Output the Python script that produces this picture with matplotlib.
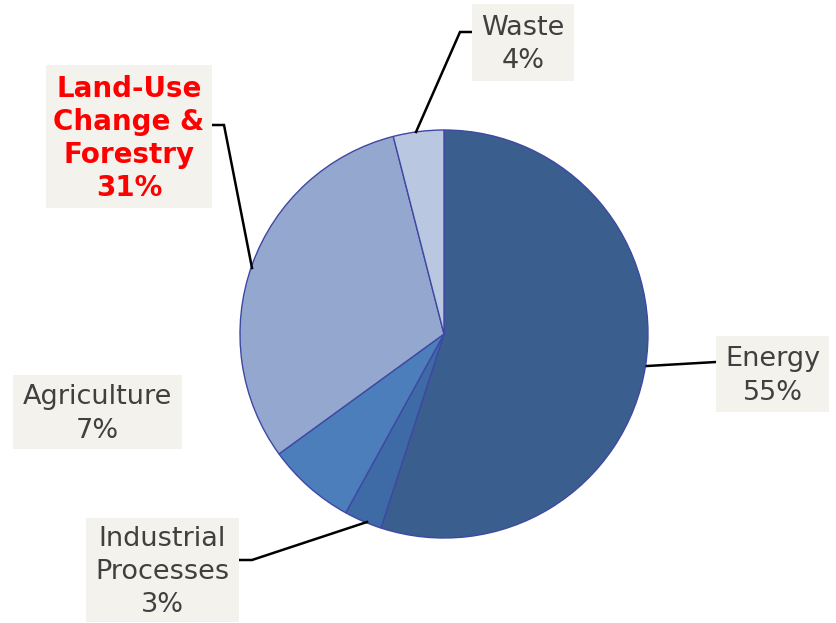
import matplotlib
matplotlib.use("Agg")
import matplotlib.pyplot as plt
from matplotlib.patches import Rectangle

# Emission shares by sector (%)
sectors = ["Energy", "Industrial\nProcesses", "Agriculture",
           "Land-Use\nChange &\nForestry", "Waste"]
shares = [55, 3, 7, 31, 4]
colors = ["#3A5E8E", "#3E6AA5", "#4D7EBC", "#94A8CF", "#BAC7E1"]

fig = plt.figure(figsize=(8.36, 6.23), dpi=100)
ax = fig.add_axes([0, 0, 1, 1])

# pixel-style coordinates with y pointing down: -90 is the top and
# counter-clockwise in data space reads clockwise on screen
ax.pie(shares, colors=colors, startangle=-90, counterclock=True,
       center=(444, 334), radius=204, frame=True,
       wedgeprops=dict(edgecolor="#3F48A3", linewidth=1.0))
ax.set_xlim(0, 836)
ax.set_ylim(623, 0)
ax.set_aspect("equal")
ax.axis("off")

box_fc = "#F3F2EC"
txt_c = "#404040"

# label boxes: (x0, y0, x1, y1), label index, leader line
labels = [
    ((716, 336, 829, 412), 0, [(647, 366), (716, 362)]),
    ((86, 518, 239, 622), 1, [(367, 522), (252, 560), (239, 560)]),
    ((13, 375, 182, 449), 2, None),
    ((46, 65, 212, 208), 3, [(252, 268), (224, 125), (212, 125)]),
    ((472, 4, 574, 81), 4, [(416, 132), (460, 32), (472, 32)]),
]

for (x0, y0, x1, y1), i, line in labels:
    ax.add_patch(Rectangle((x0, y0), x1 - x0, y1 - y0, facecolor=box_fc,
                           edgecolor="none", zorder=3))
    text = f"{sectors[i]}\n{shares[i]}%"
    if i == 3:
        ax.text((x0 + x1) / 2, (y0 + y1) / 2 + 2, text, ha="center",
                va="center", fontsize=20, fontweight="bold", color="#FF0000",
                linespacing=1.22, zorder=4)
    else:
        ax.text((x0 + x1) / 2, (y0 + y1) / 2 + 2, text, ha="center",
                va="center", fontsize=19.5, color=txt_c, linespacing=1.35,
                zorder=4)
    if line:
        xs, ys = zip(*line)
        ax.plot(xs, ys, color="black", linewidth=1.8, zorder=2,
                solid_joinstyle="miter")

fig.savefig("out.png", dpi=100)
